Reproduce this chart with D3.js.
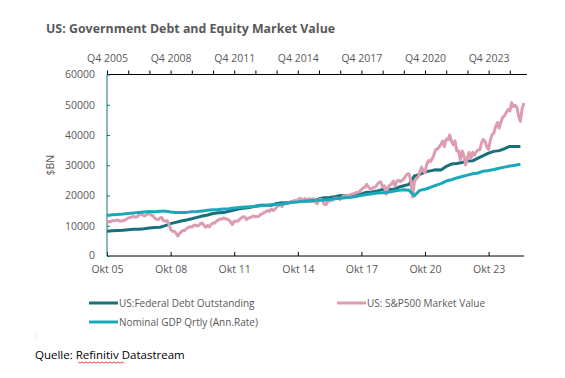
<!DOCTYPE html>
<html><head><meta charset="utf-8">
<script src="https://cdn.jsdelivr.net/npm/d3@7"></script>
<style>
html,body{margin:0;padding:0;background:#fff;}
svg{display:block;font-family:"Open Sans",sans-serif;}
</style></head>
<body>
<svg id="chart" width="565" height="378"></svg>
<script>
// ---------- DATA ----------
const title = "US: Government Debt and Equity Market Value";
const source = "Quelle: Refinitiv Datastream";
const yLabel = "$BN";
const yTicks = [0, 10000, 20000, 30000, 40000, 50000, 60000];
const bottomTickLabels = ["Okt 05","Okt 08","Okt 11","Okt 14","Okt 17","Okt 20","Okt 23"];
const topTickLabels = ["Q4 2005","Q4 2008","Q4 2011","Q4 2014","Q4 2017","Q4 2020","Q4 2023"];
const seriesNames = ["US:Federal Debt Outstanding","US: S&P500 Market Value","Nominal GDP Qrtly (Ann.Rate)"];

// quarterly, starting Q4 2005 (placed at Okt 05)
const debtStart = 2005.75;
const debt = [8170,
 8371,8420,8507,8680, 8849,8868,9008,9229, 9437,9492,10025,10700, 11127,11545,11910,12311,
 12773,13202,13562,14025, 14270,14343,14790,15223, 15582,15856,16066,16433, 16771,16738,16738,17352,
 17601,17632,17824,18141, 18152,18152,18151,18922, 19264,19381,19573,19977, 19846,19845,20245,20493,
 21090,21195,21516,21974, 22028,22023,22719,23201, 23686,26477,26945,27748, 28133,28529,28428,29617,
 30401,30568,30929,31420, 31458,32332,33167,34001, 34586,34832,35465,36219, 36220,36214];

const gdpStart = 2005.75;
const gdp = [13383,
 13649,13754,13867,14038, 14209,14383,14535,14681, 14651,14805,14835,14559, 14394,14352,14420,14628,
 14722,14900,15087,15273, 15352,15558,15647,15842, 16069,16207,16320,16420, 16629,16700,16911,17133,
 17144,17463,17743,17852, 18064,18280,18406,18470, 18539,18712,18892,19090, 19280,19438,19692,20038,
 20328,20580,20798,20918, 21104,21384,21694,21903, 21707,19935,21684,22068, 22657,23368,23922,24777,
 25215,25806,26272,26735, 27164,27453,28037,28297, 28624,29016,29375,29723, 29977,30331];

// monthly, starting Oct 2005
const spStart = 2005.75;
const sp = [10984,11366,11357,
 11648,11657,11785,11930,11557,11557,11621,11866,12158,12540,12749,12904,
 13086,12804,12931,13486,13932,13677,13241,13413,13896,14096,13477,13359,
 12540,12112,12039,12613,12740,11648,11530,11675,10611,8818,8154,8217,
 7599,6600,7342,8032,8455,8455,9080,9393,9724,9531,10083,10258,
 9881,10157,10755,10920,10019,9485,10138,9651,10497,10884,10865,11574,
 11831,12208,12199,12549,12374,12153,11886,11215,10405,11528,11472,11574,
 12070,12567,12954,12862,12052,12530,12687,12944,13257,12990,13027,13119,
 13782,13938,14435,14702,15005,14775,15511,15024,15474,16164,16615,17002,
 16404,17103,17222,17333,17701,18032,17765,18428,18142,18566,19026,18943,
 17955,18945,18612,18774,18963,18567,18936,17748,17280,18711,18720,18396,
 17072,17002,18128,18172,18454,18471,19131,19105,19078,18709,19351,19703,
 19372,20094,20086,20264,20502,20596,20995,21012,21412,21888,22508,22729,
 23722,22798,22184,22243,22722,22831,23654,24377,24478,22781,23184,20400,
 22714,23386,23806,24746,23117,24713,25032,24578,25007,25519,26384,27140,
 27098,24814,19500,24461,25570,26040,27476,29400,28249,27468,30425,31550,
 31198,32012,33373,35120,35314,36103,36918,37993,36187,38682,38363,40034,
 37934,36742,38052,34709,34709,31794,34692,33222,30122,32525,34272,32256,
 34247,33348,34516,35020,35112,37380,38548,37867,36019,35230,38371,40068,
 40706,42806,44134,42302,44335,45864,46385,47443,48401,47922,50669,49409,
 49838,49129,46299,44500,48774,50570];

// ---------- LAYOUT ----------
const colDebt = "#17707a", colSP = "#dd9cb0", colGDP = "#1ba8ba";
const textCol = "#595959";
const L = 107, R = 524, T = 74.5, B = 256;
const svg = d3.select("#chart");

const x = d3.scaleLinear().domain([2005.75, 2025.42]).range([L, R]);
const y = d3.scaleLinear().domain([0, 60000]).range([B, T]);

const toPts = (arr, start, step) => arr.map((v, i) => [start + i * step, v]);
const line = d3.line().x(d => x(d[0])).y(d => y(d[1]));

// title
svg.append("text").attr("x", 46).attr("y", 33).attr("fill", textCol)
  .attr("font-size", 12.4).attr("font-weight", "bold").text(title);

// top axis
const yearTicks = d3.range(0, 20).map(k => 2005.75 + k);
const topAxis = d3.axisTop(x).tickValues(yearTicks).tickSize(4).tickFormat((d, i) => i % 3 === 0 ? topTickLabels[i / 3] : "");
const gTop = svg.append("g").attr("transform", `translate(0,${T})`).call(topAxis);
gTop.select(".domain").attr("d", `M${L},0H527`).attr("stroke", "#000");
gTop.selectAll(".tick line").attr("stroke", "#000");
gTop.selectAll(".tick text").attr("fill", textCol).attr("font-size", 10.5).attr("font-family", "Open Sans").attr("dy", "-0.55em");

// bottom axis
const botTicks = d3.range(0, 7).map(k => 2005.75 + 3 * k);
const botAxis = d3.axisBottom(x).tickValues(botTicks).tickSize(-4).tickPadding(10).tickFormat((d, i) => bottomTickLabels[i]);
const gBot = svg.append("g").attr("transform", `translate(0,${B})`).call(botAxis);
gBot.select(".domain").attr("d", `M${L},0H${R}`).attr("stroke", "#000");
gBot.selectAll(".tick line").attr("stroke", "#000");
gBot.selectAll(".tick text").attr("fill", textCol).attr("font-size", 10.5).attr("font-family", "Open Sans");

// left axis
const leftAxis = d3.axisLeft(y).tickValues(yTicks).tickSize(-3).tickPadding(12).tickFormat(d3.format("d"));
const gLeft = svg.append("g").attr("transform", `translate(${L},0)`).call(leftAxis);
gLeft.select(".domain").attr("d", `M0,${B}V${T}`).attr("stroke", colDebt);
gLeft.selectAll(".tick line").attr("stroke", colDebt);
gLeft.selectAll(".tick text").attr("fill", textCol).attr("font-size", 10.5).attr("font-family", "Open Sans");
// nudge the "0" label up slightly so it clears the bottom labels
gLeft.selectAll(".tick").filter(d => d === 0).select("text").attr("dy", "0.2em");

svg.append("text").attr("transform", `translate(54,${(T + B) / 2}) rotate(-90)`)
  .attr("text-anchor", "middle").attr("fill", textCol).attr("font-size", 10.5).text(yLabel);

// series
const plot = svg.append("g");
plot.append("path").datum(toPts(debt, debtStart, 0.25)).attr("d", line)
  .attr("fill", "none").attr("stroke", colDebt).attr("stroke-width", 3).attr("stroke-linejoin", "round");
plot.append("path").datum(toPts(sp, spStart, 1 / 12)).attr("d", line)
  .attr("fill", "none").attr("stroke", colSP).attr("stroke-width", 3).attr("stroke-linejoin", "round");
plot.append("path").datum(toPts(gdp, gdpStart, 0.25)).attr("d", line)
  .attr("fill", "none").attr("stroke", colGDP).attr("stroke-width", 3).attr("stroke-linejoin", "round");

// legend
const legend = [
  {name: seriesNames[0], col: colDebt, x: 89, y: 303},
  {name: seriesNames[1], col: colSP, x: 337, y: 303},
  {name: seriesNames[2], col: colGDP, x: 89, y: 322}
];
const lg = svg.append("g").selectAll("g").data(legend).join("g");
lg.append("line").attr("x1", d => d.x).attr("x2", d => d.x + 29).attr("y1", d => d.y).attr("y2", d => d.y)
  .attr("stroke", d => d.col).attr("stroke-width", 3);
lg.append("text").attr("x", d => d.x + 30).attr("y", d => d.y + 3.5).attr("fill", textCol)
  .attr("font-size", 10).text(d => d.name);

// small dot
svg.append("rect").attr("x", 35.5).attr("y", 335.5).attr("width", 1).attr("height", 1).attr("fill", "#bbb");

// source
svg.append("text").attr("x", 35).attr("y", 359).attr("fill", "#000").attr("font-size", 11.5).text(source);
// red squiggle under "Refinitiv"
const sq = [];
for (let i = 0; i <= 23; i++) sq.push([78 + i * 2, 362 + (i % 2 ? 1.2 : 0)]);
svg.append("path").attr("d", d3.line()(sq)).attr("fill", "none").attr("stroke", "#e02020").attr("stroke-width", 0.8);
</script>
</body></html>
